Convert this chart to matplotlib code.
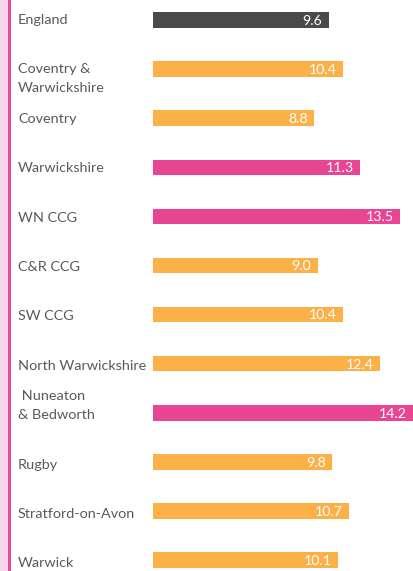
import matplotlib
matplotlib.use("Agg")
import matplotlib.pyplot as plt
from matplotlib.patches import Rectangle
import matplotlib.transforms as mtransforms

categories = ["England", "Coventry &\nWarwickshire", "Coventry", "Warwickshire", "WN CCG",
              "C&R CCG", "SW CCG", "North Warwickshire", " Nuneaton\n& Bedworth", "Rugby",
              "Stratford-on-Avon", "Warwick"]
values = [9.6, 10.4, 8.8, 11.3, 13.5, 9.0, 10.4, 12.4, 14.2, 9.8, 10.7, 10.1]
bar_colors = ["#4a4a4a", "#fbb148", "#fbb148", "#e84595", "#e84595", "#fbb148",
              "#fbb148", "#fbb148", "#e84595", "#fbb148", "#fbb148", "#fbb148"]
# label lines sitting above the row baseline (multi-line labels)
label_lines_above = [0, 0, 0, 0, 0, 0, 0, 0, 1, 0, 0, 0]

W, H, DPI = 414, 571, 100
fig = plt.figure(figsize=(W / DPI, H / DPI), dpi=DPI)
fig.patch.set_facecolor("white")

FONT = "Lato"
LABEL_COLOR = "#595959"

# left decorative strip
fig.patches.append(Rectangle((0, 0), 8 / W, 1, transform=fig.transFigure,
                             facecolor="#f9d6e9", edgecolor="none"))
fig.patches.append(Rectangle((8 / W, 0), 3 / W, 1, transform=fig.transFigure,
                             facecolor="#e84a9b", edgecolor="none"))

ax = fig.add_axes([153 / W, 0, (W - 153) / W, 1])
ax.set_axis_off()
n = len(values)
row_px = 49.1
top_px = 20
ypos = list(range(n))
ax.barh(ypos, values, height=15.5 / row_px, color=bar_colors, left=0)
ax.set_xlim(0, 14.25)
ax.set_ylim(n - 1 + (H - top_px - (n - 1) * row_px) / row_px, -top_px / row_px)

for y, v in zip(ypos, values):
    ax.annotate(f"{v:.1f}", xy=(v, y), xytext=(-4.6, -3.5), textcoords="offset points",
                ha="right", va="baseline", color="white", fontsize=10.2, family=FONT)

label_row = 49.4
label_top = 24
line_h = 19
for i, (lab, up) in enumerate(zip(categories, label_lines_above)):
    base = label_top + label_row * i - up * line_h
    for j, line in enumerate(lab.split("\n")):
        ypx = base + j * line_h
        fig.text(18 / W, 1 - ypx / H, line, ha="left", va="baseline",
                 color=LABEL_COLOR, fontsize=10.4, family=FONT)

fig.savefig("out.png", dpi=DPI)
